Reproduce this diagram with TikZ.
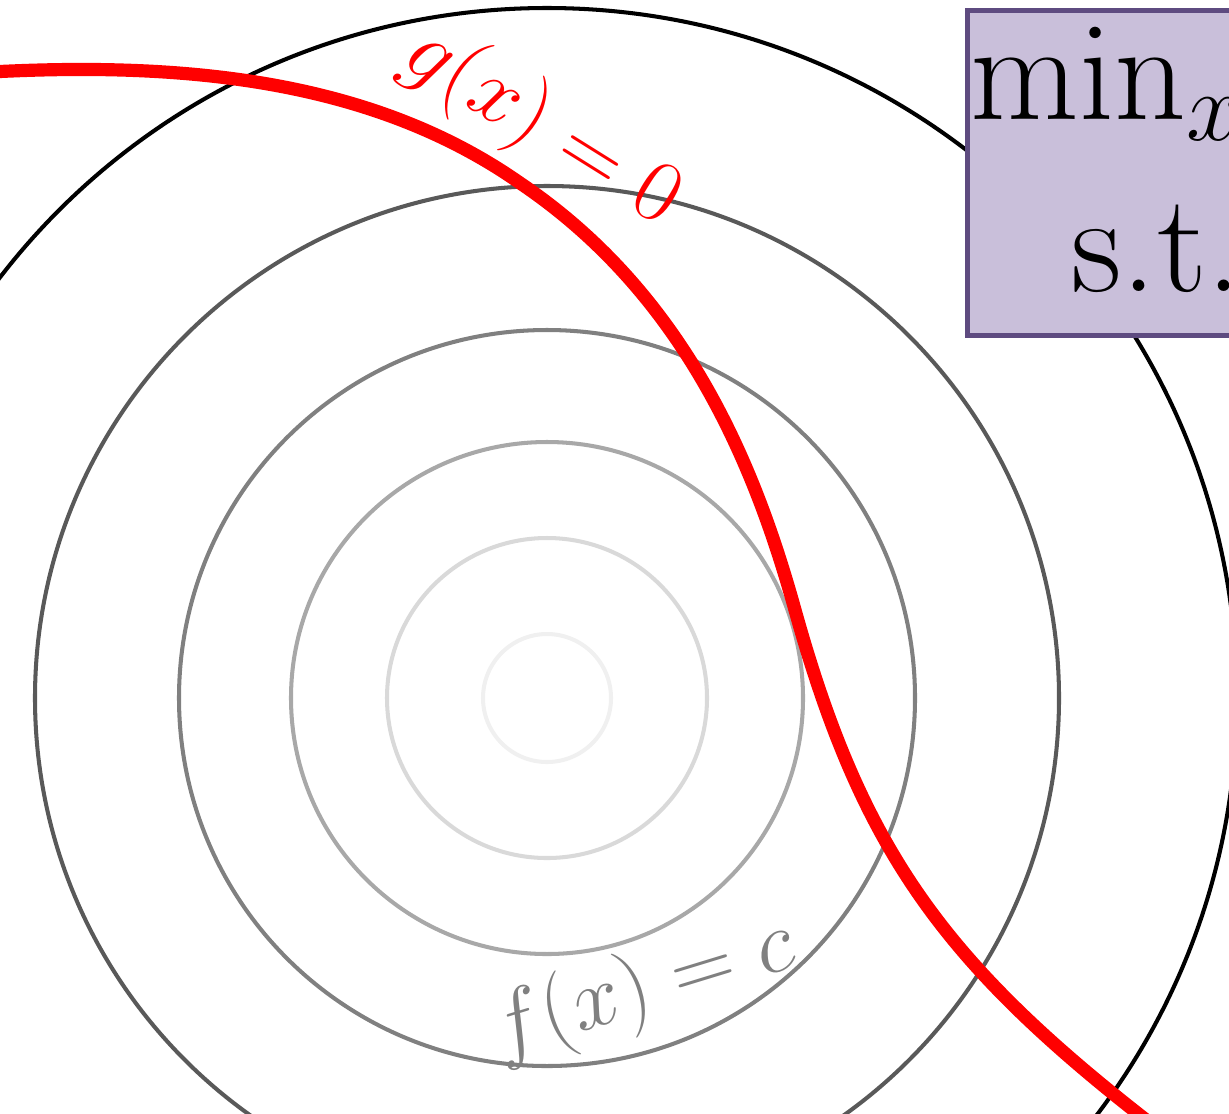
\RequirePackage{fix-cm}
\documentclass[tikz,border=0pt]{standalone}
\usepackage{amsmath,amssymb}
\usepackage{xcolor}
\usetikzlibrary{positioning,calc}

\definecolor{boxfill}{HTML}{C9BFDA}
\definecolor{boxdraw}{HTML}{5E4B80}

\begin{document}
\begin{tikzpicture}[
    x=0.02cm, y=-0.02cm,
    level/.style={line width=2.3pt},
    constraint/.style={draw=red, line width=7.5pt},
    prob/.style={rectangle, draw=boxdraw, line width=2.8pt, fill=boxfill, inner sep=2pt},
    lbl/.style={inner sep=0pt}
]
\useasboundingbox (0,0) rectangle (1229,1113);
\clip (0,0) rectangle (1229,1113);

\coordinate (c) at (547,698);

% level sets of f
\foreach \r/\col in {64/black!6, 160/black!15, 256/black!34, 368/black!50, 512/black!65, 690/black}
    \draw[level, draw=\col] (c) circle[radius=\r*0.02cm];

\node[lbl, text=black!50, rotate=17] (flabel) at (643,990) {\fontsize{50}{54}\selectfont$f(x) = c$};

% constraint curve
\coordinate (g0) at (-10,72);
\coordinate (g1) at (520,183);
\coordinate (g2) at (795,610);
\coordinate (g3) at (1150,1123);
\draw[constraint] (g0) .. controls (180,62) and (370,78) .. (g1)
    .. controls (686,295) and (755,466) .. (g2)
    .. controls (862,850) and (943,962) .. (g3);

\node[lbl, text=red, rotate=-32] (glabel) at (542,127) {\fontsize{50}{54}\selectfont$g(x) = 0$};

% problem box
\node[prob, anchor=north west] (problem) at (965,8) {\fontsize{80}{96}\selectfont
    \renewcommand{\arraystretch}{0}%
    \begin{tabular}{@{}r@{\,}l@{}}
    $\min_x$ & $f(x)$ \\[38pt]
    s.t. & $g(x) = 0$\rule[-0.82cm]{0pt}{0.1pt}
    \end{tabular}};

\end{tikzpicture}
\end{document}
